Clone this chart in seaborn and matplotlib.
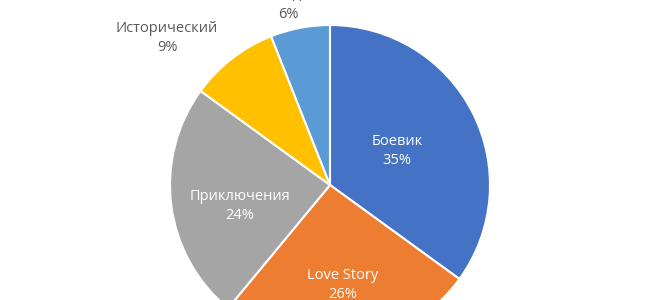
import numpy as np
import matplotlib
matplotlib.use("Agg")
import matplotlib.pyplot as plt
import seaborn as sns

categories = ["Боевик", "Love Story", "Приключения", "Исторический", "Комедия"]
values = [35, 26, 24, 9, 6]
colors = ["#4472C4", "#ED7D31", "#A5A5A5", "#FFC000", "#5B9BD5"]

# label placement (radius as fraction of pie radius, angle offset in degrees)
label_radius = [0.47, 0.63, 0.58, 1.372, 1.158]
label_angle_offset = [0, 0, 6, 10.1, 2.3]
label_inside = [True, True, True, False, False]

sns.set_theme(style="white")
plt.rcParams["font.family"] = ["Open Sans", "DejaVu Sans"]

fig = plt.figure(figsize=(6.6, 3.0), dpi=100)
ax = fig.add_axes([0, 0, 1, 1])
pal = sns.color_palette(colors)

wedges, _ = ax.pie(values, colors=pal, startangle=90, counterclock=False,
                   radius=1.0, wedgeprops=dict(edgecolor="white", linewidth=1.5))

total = sum(values)
for w, cat, v, r, off, inside in zip(wedges, categories, values, label_radius,
                                     label_angle_offset, label_inside):
    mid = np.deg2rad((w.theta1 + w.theta2) / 2 + off)
    x, y = r * np.cos(mid), r * np.sin(mid)
    ax.text(x, y, f"{cat}\n{round(100 * v / total)}%", ha="center", va="center",
            fontsize=10.5, color="white" if inside else "#595959",
            linespacing=1.4)

ax.set_aspect("equal")
ax.set_xlim(-330 / 160, 330 / 160)
ax.set_ylim(-115 / 160, 185 / 160)
ax.axis("off")
fig.savefig("out.png", dpi=100)
